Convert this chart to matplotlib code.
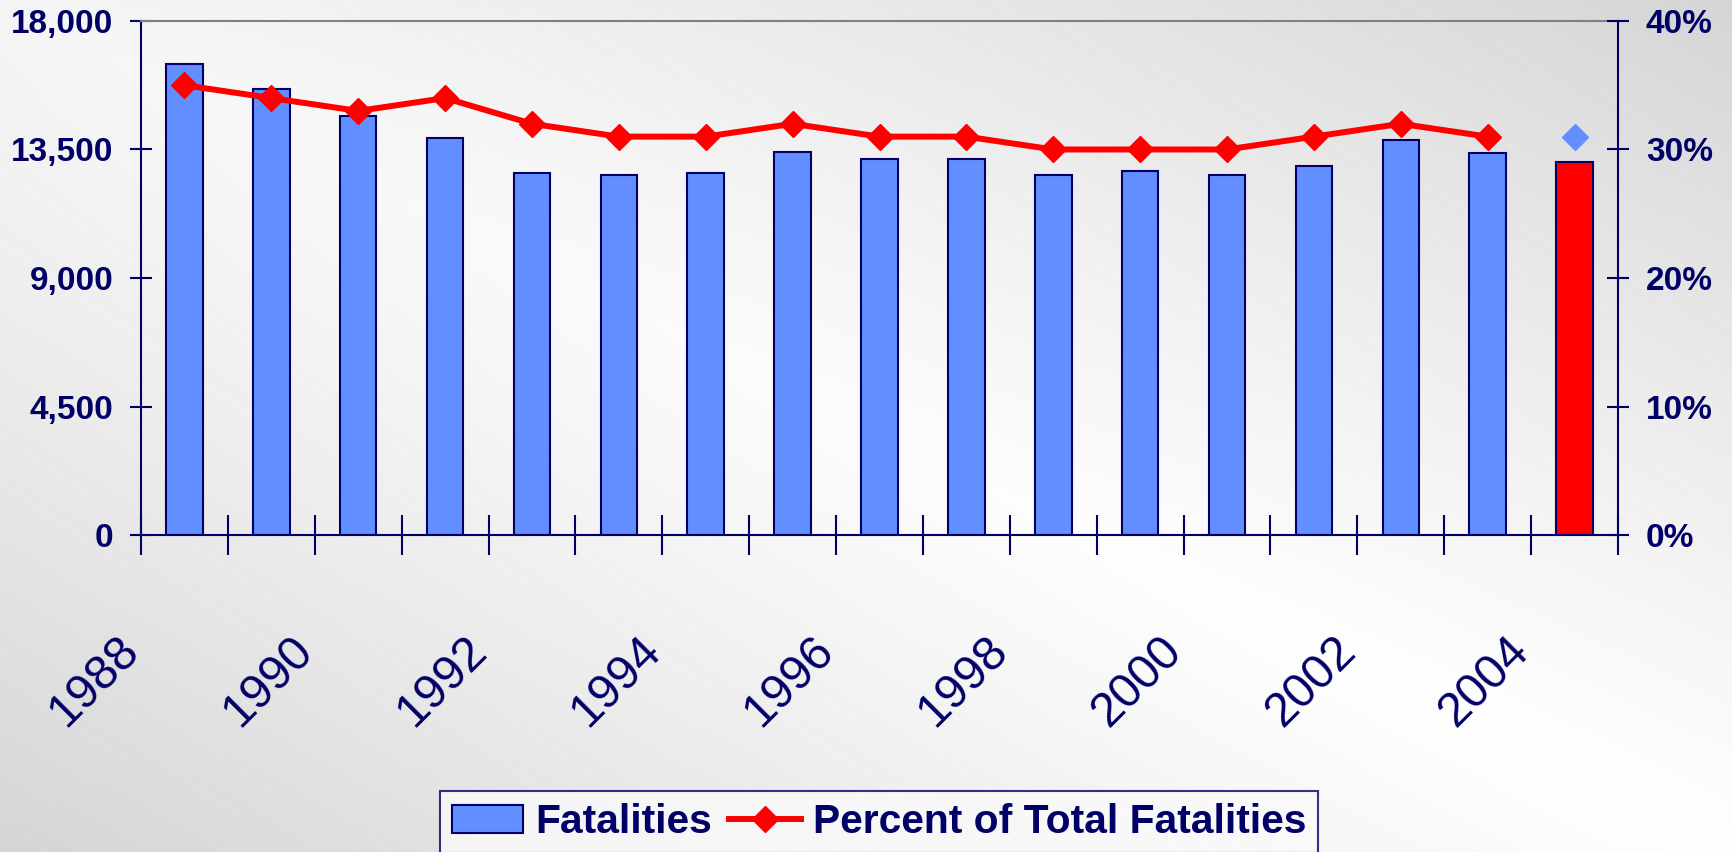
import matplotlib
matplotlib.use("Agg")
import matplotlib.pyplot as plt
import numpy as np
from matplotlib.ticker import FuncFormatter

plt.rcParams['font.family'] = ['Liberation Sans', 'DejaVu Sans']

# data
years = list(range(1988, 2005))
fatalities = [16500, 15620, 14660, 13910, 12660, 12590, 12660, 13400, 13170,
              13170, 12590, 12740, 12590, 12930, 13830, 13390, 13070]
percent = [35, 34, 33, 34, 32, 31, 31, 32, 31, 31, 30, 30, 30, 31, 32, 31]
percent_last = 31

navy = '#000066'
blue = '#638EFF'
red = '#FF0000'

W, H = 1732, 852
fig = plt.figure(figsize=(W / 100, H / 100), dpi=100)

# gradient background with faint diagonal streaks
bg = fig.add_axes([0, 0, 1, 1], zorder=-10)
px, py = np.meshgrid(np.arange(W), np.arange(H))
u, v = px / W, py / H
shade = 1 - 0.165 * np.abs(u - v) ** 1.1 - 0.04 * (1 - u) * (1 - v) * (1 - np.abs(u - v))
streak = ((py - 0.7 * px) % 24) < 1.3
shade = np.clip(shade + 0.012 * streak * (shade < 0.97), 0, 1)
bg.imshow(np.dstack([shade] * 3), aspect='auto', extent=[0, 1, 0, 1],
          origin='upper', interpolation='nearest')
bg.axis('off')

ax = fig.add_axes([0.0814, 0.372, 0.9342 - 0.0814, 0.9754 - 0.372])
ax.patch.set_visible(False)
x = np.arange(len(years))
colors = [blue] * (len(years) - 1) + [red]
bars = ax.bar(x, fatalities, width=0.42, color=colors, edgecolor=navy,
              linewidth=1.5, label='Fatalities', zorder=2)
ax.set_xlim(-0.5, len(years) - 0.5)
ax.set_ylim(0, 18000)
ax.set_yticks(np.arange(0, 18001, 4500))
ax.yaxis.set_major_formatter(FuncFormatter(lambda v, p: f'{v:,.0f}'))

# category boundaries carry the ticks; every other one gets a year
bounds = np.arange(len(years) + 1) - 0.5
xlabels = [str(years[k]) if (k % 2 == 0 and k < len(years)) else ''
           for k in range(len(bounds))]
ax.set_xticks(bounds)
ax.set_xticklabels(xlabels, rotation=45, ha='right', va='baseline',
                   rotation_mode='anchor', fontsize=34.5, color=navy)
ax.tick_params(axis='x', direction='inout', length=29, width=1.5,
               color=navy, pad=70)
ax.tick_params(axis='y', direction='inout', length=16, width=1.5,
               color=navy, pad=12, labelsize=24, labelcolor=navy)
for lab in ax.get_yticklabels():
    lab.set_fontweight('bold')

for s in ['left', 'bottom']:
    ax.spines[s].set_color(navy)
    ax.spines[s].set_linewidth(1.5)
ax.spines['right'].set_visible(False)
ax.spines['top'].set_color('#808080')
ax.spines['top'].set_linewidth(1.5)

ax2 = ax.twinx()
ax2.patch.set_visible(False)
line, = ax2.plot(x[:len(percent)], percent, color=red, lw=4.3, marker='D',
                 markersize=13.5, label='Percent of Total Fatalities', zorder=3)
ax2.plot([x[-1]], [percent_last], linestyle='none', marker='D',
         markersize=13.5, color=blue, zorder=3)
ax2.set_ylim(0, 40)
ax2.set_yticks(np.arange(0, 41, 10))
ax2.yaxis.set_major_formatter(FuncFormatter(lambda v, p: f'{v:.0f}%'))
ax2.tick_params(axis='y', direction='inout', length=16, width=1.5,
                color=navy, pad=12, labelsize=24, labelcolor=navy)
for lab in ax2.get_yticklabels():
    lab.set_fontweight('bold')
for s in ['left', 'bottom', 'top']:
    ax2.spines[s].set_visible(False)
ax2.spines['right'].set_color(navy)
ax2.spines['right'].set_linewidth(1.5)

leg = fig.legend([bars, line], ['Fatalities', 'Percent of Total Fatalities'],
                 loc='upper left', bbox_to_anchor=(440 / W, 1 - 791 / H),
                 ncol=2, frameon=True, fancybox=False,
                 prop={'weight': 'bold', 'size': 29.3},
                 handlelength=1.75, handletextpad=0.3, columnspacing=0.42,
                 borderpad=0.3, borderaxespad=0)
for t in leg.get_texts():
    t.set_color(navy)
leg.get_frame().set_edgecolor(navy)
leg.get_frame().set_linewidth(1.5)
leg.get_frame().set_facecolor('#fafafa')

fig.savefig('out.png', dpi=100)
